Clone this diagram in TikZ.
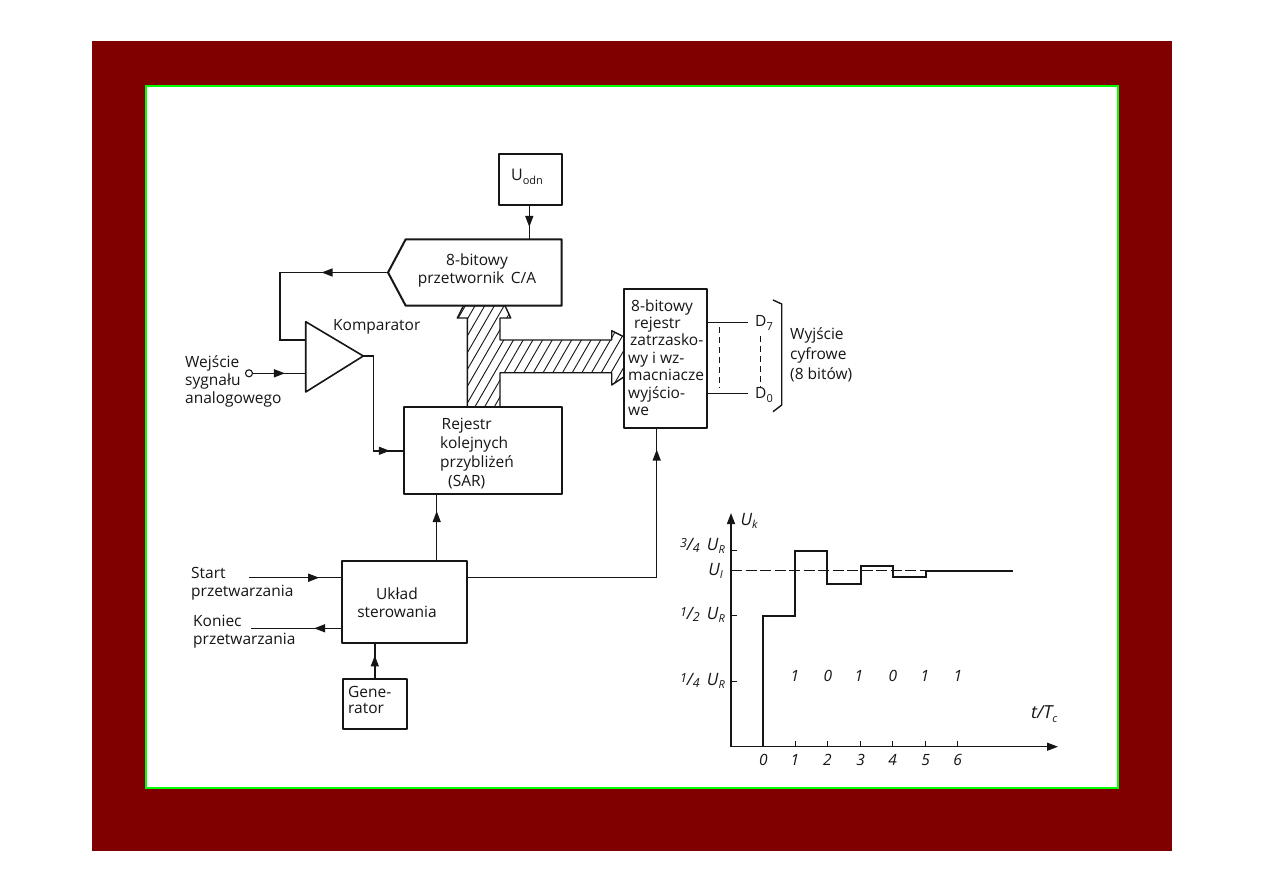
\documentclass[tikz,border=0pt]{standalone}
\usepackage{fontspec}
\setmainfont{Open Sans}
\usetikzlibrary{arrows.meta,decorations.markings,calc}
\definecolor{ink}{HTML}{161616}
\definecolor{framered}{HTML}{800000}
\definecolor{framegreen}{HTML}{00FF00}
% lowered index and raised/lowered fraction parts at a size fit for this drawing
\newcommand{\Sub}[1]{\raisebox{-3.5pt}{\fontsize{11}{12}\selectfont #1}}
\newcommand{\Frac}[2]{\raisebox{3pt}{\fontsize{12.5}{13}\selectfont #1}/\raisebox{-2pt}{\fontsize{12.5}{13}\selectfont #2}\,}
\newcommand{\BusOutline}{(467.3,407) -- (467.3,318) -- (457.3,318) -- (463.5,305.7) -- (505,305.7) -- (510.7,318)
  -- (500,318) -- (500,340) -- (611.7,340) -- (611.7,330.7) -- (624.3,337) -- (624.3,376.7)
  -- (611.7,385) -- (611.7,372.7) -- (500,372.7) -- (500,407)}
\tikzset{
  blockbox/.style={draw=ink,line width=2pt,line join=round,fill=white,inner sep=0pt},
  wire/.style={draw=ink,line width=1.4pt},
  dashwire/.style={draw=ink,line width=1.1pt,dash pattern=on 6pt off 4pt},
  head/.style={-{Triangle[length=11pt,width=8pt]}},
  midhead/.style={postaction={decorate,decoration={markings,
      mark=at position #1 with {\arrow{Triangle[length=11pt,width=8pt]}}}}},
  label/.style={font=\fontsize{15.5}{18}\selectfont,text=ink,inner sep=0pt,align=left},
  axislabel/.style={font=\fontsize{15.5}{17}\selectfont\itshape,text=ink,inner sep=0pt},
}
\begin{document}
\begin{tikzpicture}[x=1pt,y=-1pt]
\useasboundingbox (0,0) rectangle (1263,893);
% slide frame
\fill[framered] (92,41) rectangle (1172,851);
\draw[framegreen,line width=2pt,fill=white] (146,86) rectangle (1118,788);

% hatched bus between the register, the converter and the output latch
\begin{scope}
  \clip \BusOutline -- cycle;
  \foreach \hx in {380,389.7,...,640}{
    \draw[draw=ink,line width=.9pt] (\hx,420) -- (\hx+75,290);
  }
\end{scope}
\draw[draw=ink,line width=1.4pt,line join=round] \BusOutline;

% blocks
\node[blockbox,minimum width=62.4pt,minimum height=51pt] (uodn) at (530.5,179.5) {};
\node[label,font=\fontsize{16}{18}\selectfont] (uodntext) at (527,177) {U\Sub{odn}};

\coordinate (dactip) at (388,272.5);
\coordinate (dactl) at (405.7,239.3);
\coordinate (dactr) at (561.7,239.3);
\coordinate (dacbr) at (561.7,305.7);
\coordinate (dacbl) at (405.7,305.7);
\draw[blockbox] (dactip) -- (dactl) -- (dactr) -- (dacbr) -- (dacbl) -- cycle;
\node[label,align=center] (dactext) at (477,270.5) {8-bitowy\\przetwornik\, C/A};

\coordinate (cmpup) at (305.7,321.7);
\coordinate (cmplow) at (305.7,392);
\coordinate (cmptip) at (363.3,356);
\draw[draw=ink,line width=1.6pt,line join=round,fill=white] (cmpup) -- (cmptip) -- (cmplow) -- cycle;
\node[label,anchor=west] (cmptext) at (333,326.7) {Komparator};

\node[blockbox,minimum width=157.4pt,minimum height=87pt] (sar) at (483,450.8) {};
\node[label,font=\fontsize{15.5}{19}\selectfont,anchor=west] (sartext) at (440,454) {\hspace*{1.5pt}Rejestr\\kolejnych\\przybliżeń\\\hspace*{8pt}(SAR)};

\node[blockbox,minimum width=82.4pt,minimum height=139.3pt] (latch) at (665.5,358.7) {};
\node[label,font=\fontsize{15.5}{17.4}\selectfont,anchor=west] (latchtext) at (628,357.5) {\hspace*{3pt}8-bitowy\\\hspace*{6pt}rejestr\\\hspace*{2pt}zatrzasko-\\wy i wz-\\macniacze\\wyjścio-\\we};

\node[blockbox,minimum width=125pt,minimum height=82.3pt] (ctrl) at (404.8,602.2) {};
\node[label,align=center] (ctrltext) at (397,603) {Układ\\sterowania};

\node[blockbox,minimum width=64.3pt,minimum height=50.3pt] (gen) at (374.8,704.2) {};
\node[label,font=\fontsize{15.5}{16.5}\selectfont,anchor=west] (gentext) at (348,700) {Gene-\\rator};

% signal labels
\coordinate (inpt) at (249,373.3);
\draw[draw=ink,line width=1.1pt] (inpt) circle (3.5pt);
\node[label,anchor=west] (intext) at (185,381) {Wejście\\sygnału\\analogowego};
\node[label,anchor=west] (starttext) at (191,584) {Start\\przetwarzania};
\node[label,anchor=west] (endtext) at (193,632) {Koniec\\przetwarzania};
\coordinate (startend) at (249.3,577.7);
\coordinate (endend) at (250.7,628.3);

% connectors
\coordinate (ua) at (529.3,205);
\draw[wire,midhead=.64] (ua) -- (ua |- dactr);
\coordinate (fb) at (280,272.5);
\coordinate (fc) at (280,340);
\draw[wire,midhead=.33] (dactip) -- (fb) -- (fc) -- (cmpup |- fc);
\coordinate (inw) at (252.5,373.3);
\draw[wire,midhead=.61] (inw) -- (cmpup |- inw);
\coordinate (co) at (373.3,356);
\draw[wire,midhead=.9] (cmptip) -- (co) -- (co |- sar.west) -- (sar.west);
\coordinate (cs) at (436.7,561);
\draw[wire,midhead=.76] (cs) -- (cs |- sar.south);
\draw[wire,midhead=.67] (gen.north) -- (gen.north |- ctrl.south);
\draw[wire,midhead=.76] (startend) -- (startend -| ctrl.west);
\draw[wire,midhead=.3] (endend -| ctrl.west) -- (endend);
\coordinate (cle) at (467.3,577.3);
\coordinate (cl) at (656.7,577.3);
\draw[wire,midhead=.94] (cle) -- (cl) -- (cl |- latch.south);

% latch outputs
\coordinate (dseven) at (748,322.3);
\coordinate (dzero) at (748,393.3);
\draw[wire] (latch.east |- dseven) -- (dseven);
\draw[wire] (latch.east |- dzero) -- (dzero);
\draw[dashwire] (719.5,327) -- (719.5,388);
\node[label,anchor=west] (d7) at (755,323) {D\Sub{7}};
\node[label,anchor=west] (d0) at (755,395) {D\Sub{0}};
\coordinate (dt) at (760.5,336);
\draw[dashwire] (dt) -- (dt |- d0.north);
\draw[wire,line join=round] (773,300) -- (781.7,304) -- (781.7,405) -- (773,411.7);
\node[label,font=\fontsize{15.5}{20}\selectfont,anchor=west] (outtext) at (790,355) {Wyjście\\cyfrowe\\(8 bitów)};

% step response chart
\coordinate (orig) at (731,746.7);
\coordinate (ytop) at (731,513);
\coordinate (xend) at (1058,746.7);
\draw[wire,head] (orig) -- (ytop);
\draw[wire,head] (orig) -- (xend);
\node[axislabel,font=\fontsize{17}{18}\selectfont\itshape] (uk) at (749,521) {U\Sub{k}};
\node[axislabel,anchor=west,font=\fontsize{18}{20}\selectfont\itshape] (tt) at (1031,714) {t/T\Sub{c}};

\foreach \px/\lbl in {763.3/0,795/1,827.3/2,860.7/3,892.7/4,925.7/5,957.7/6}{
  \node[axislabel] (x\lbl) at (\px,760) {\lbl};
}
\foreach \px in {795,827.3,860.7,892.7,925.7,957.7}{
  \draw[wire,line width=.9pt] (\px,746.7) -- (\px,741);
}
\foreach \py in {550.7,615.7,681.7}{
  \draw[wire] (731,\py) -- (737,\py);
}
\node[axislabel,anchor=east,font=\fontsize{17}{18}\selectfont\itshape] (ythree) at (725,546) {\Frac{3}{4} U\Sub{R}};
\node[axislabel,anchor=east,font=\fontsize{17}{18}\selectfont\itshape] (yone) at (725,615) {\Frac{1}{2} U\Sub{R}};
\node[axislabel,anchor=east,font=\fontsize{17}{18}\selectfont\itshape] (yq) at (725,681) {\Frac{1}{4} U\Sub{R}};
\node[axislabel,anchor=east,font=\fontsize{17}{18}\selectfont\itshape] (ui) at (723,571) {U\Sub{I}};
\foreach \px/\lbl/\k in {795/1/a,828/0/b,859/1/c,893/0/d,925/1/e,958/1/f}{
  \node[axislabel] (bit\k) at (\px,676) {\lbl};
}
\draw[draw=ink,line width=1.1pt,dash pattern=on 11pt off 3.5pt] (731,570.7) -- (1013,570.7);
\draw[draw=ink,line width=1.9pt,line join=miter]
  (763.3,746.7) -- (763.3,615.7) -- (795,615.7) -- (795,551) -- (827.3,551) -- (827.3,584)
  -- (860.7,584) -- (860.7,566) -- (892.7,566) -- (892.7,576.7) -- (925.7,576.7)
  -- (925.7,570.7) -- (1013,570.7);
\end{tikzpicture}
\end{document}
